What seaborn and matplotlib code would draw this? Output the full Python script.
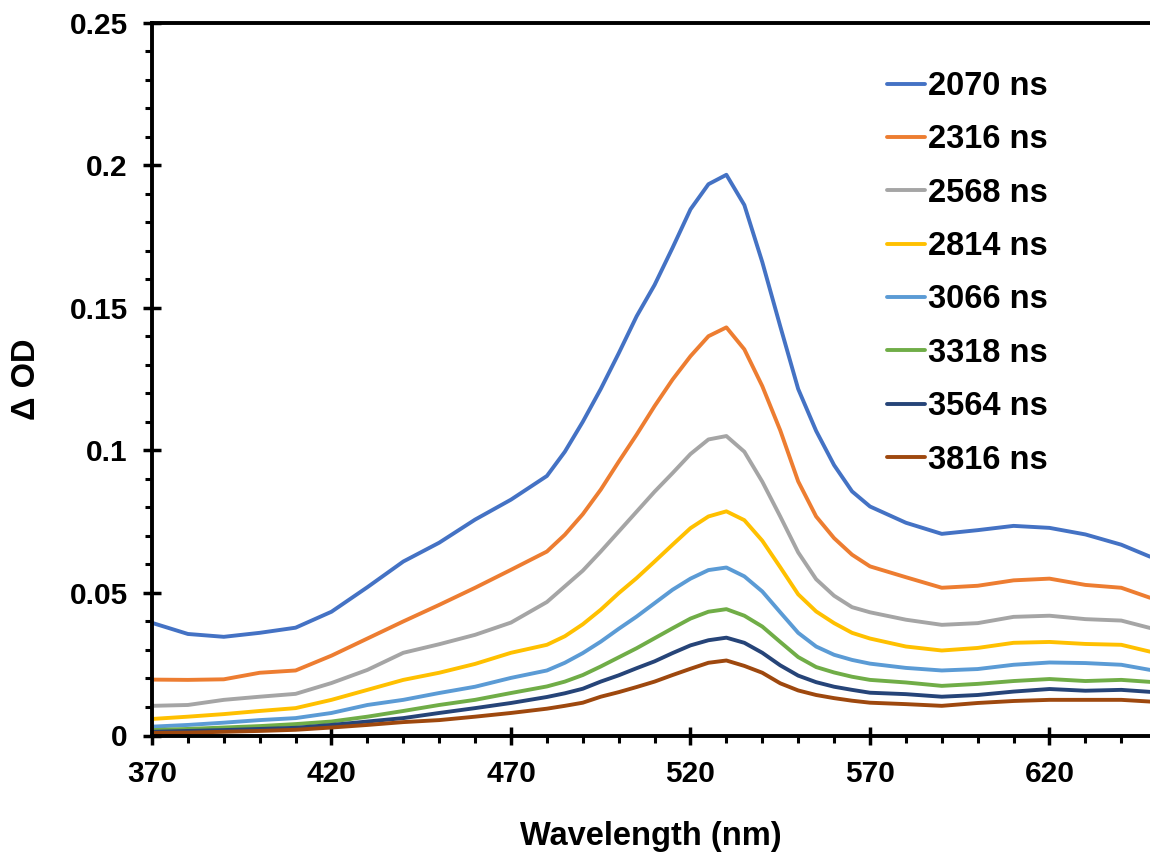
import numpy as np
import pandas as pd
import matplotlib
matplotlib.use("Agg")
import matplotlib.pyplot as plt
from matplotlib.ticker import MultipleLocator, FixedLocator, FixedFormatter
import seaborn as sns

wavelength = [370, 380, 390, 400, 410, 420, 430, 440, 450, 460, 470,
              480, 485, 490, 495, 500, 505, 510, 515, 520, 525, 530, 535, 540, 545,
              550, 555, 560, 565, 570,
              580, 590, 600, 610, 620, 630, 640, 648]

t2070 = [0.0395, 0.0356, 0.0346, 0.0360, 0.0378, 0.0434, 0.0520, 0.0610, 0.0676, 0.0757, 0.0827,
         0.0910, 0.0995, 0.1100, 0.1215, 0.1340, 0.1470, 0.1580, 0.1710, 0.1845, 0.1933, 0.1966,
         0.1860, 0.1660, 0.1435, 0.1215, 0.1068, 0.0948, 0.0856, 0.0803,
         0.0746, 0.0707, 0.0720, 0.0735, 0.0728, 0.0705, 0.0669, 0.0627]
t2316 = [0.0196, 0.0195, 0.0197, 0.0220, 0.0228, 0.0280, 0.0340, 0.0400, 0.0458, 0.0518, 0.0581,
         0.0645, 0.0704, 0.0776, 0.0862, 0.0960, 0.1055, 0.1155, 0.1248, 0.1330, 0.1400, 0.1431,
         0.1354, 0.1225, 0.1070, 0.0891, 0.0768, 0.0692, 0.0634, 0.0593,
         0.0555, 0.0518, 0.0525, 0.0544, 0.0550, 0.0528, 0.0518, 0.0483]
t2568 = [0.0104, 0.0107, 0.0125, 0.0136, 0.0146, 0.0184, 0.0230, 0.0290, 0.0320, 0.0353, 0.0396,
         0.0468, 0.0523, 0.0578, 0.0645, 0.0715, 0.0785, 0.0855, 0.0920, 0.0987, 0.1038, 0.1050,
         0.0995, 0.0890, 0.0768, 0.0642, 0.0548, 0.0490, 0.0450, 0.0432,
         0.0406, 0.0388, 0.0394, 0.0416, 0.0420, 0.0408, 0.0403, 0.0377]
t2814 = [0.0058, 0.0066, 0.0075, 0.0086, 0.0096, 0.0125, 0.0160, 0.0195, 0.0220, 0.0251, 0.0290,
         0.0318, 0.0348, 0.0390, 0.0441, 0.0499, 0.0552, 0.0610, 0.0669, 0.0727, 0.0768, 0.0786,
         0.0755, 0.0683, 0.0590, 0.0495, 0.0435, 0.0394, 0.0360, 0.0340,
         0.0312, 0.0298, 0.0307, 0.0325, 0.0328, 0.0321, 0.0318, 0.0294]
t3066 = [0.0031, 0.0037, 0.0045, 0.0054, 0.0061, 0.0079, 0.0107, 0.0125, 0.0149, 0.0171, 0.0202,
         0.0228, 0.0255, 0.0289, 0.0329, 0.0374, 0.0417, 0.0464, 0.0511, 0.0550, 0.0580, 0.0589,
         0.0558, 0.0505, 0.0432, 0.0360, 0.0312, 0.0283, 0.0265, 0.0252,
         0.0237, 0.0228, 0.0233, 0.0248, 0.0256, 0.0254, 0.0248, 0.0230]
t3318 = [0.0019, 0.0023, 0.0028, 0.0033, 0.0040, 0.0049, 0.0066, 0.0086, 0.0107, 0.0125, 0.0149,
         0.0172, 0.0189, 0.0212, 0.0242, 0.0274, 0.0306, 0.0341, 0.0376, 0.0410, 0.0434, 0.0443,
         0.0420, 0.0382, 0.0328, 0.0275, 0.0240, 0.0221, 0.0206, 0.0195,
         0.0186, 0.0174, 0.0181, 0.0191, 0.0198, 0.0191, 0.0195, 0.0188]
t3564 = [0.0013, 0.0016, 0.0019, 0.0023, 0.0027, 0.0037, 0.0049, 0.0061, 0.0079, 0.0096, 0.0114,
         0.0135, 0.0148, 0.0164, 0.0189, 0.0211, 0.0236, 0.0260, 0.0289, 0.0316, 0.0334, 0.0343,
         0.0325, 0.0290, 0.0246, 0.0210, 0.0187, 0.0171, 0.0160, 0.0150,
         0.0145, 0.0136, 0.0142, 0.0154, 0.0163, 0.0157, 0.0160, 0.0153]
t3816 = [0.0009, 0.0010, 0.0013, 0.0016, 0.0020, 0.0028, 0.0037, 0.0047, 0.0054, 0.0066, 0.0079,
         0.0094, 0.0104, 0.0115, 0.0136, 0.0152, 0.0170, 0.0189, 0.0212, 0.0234, 0.0255, 0.0263,
         0.0244, 0.0220, 0.0183, 0.0158, 0.0142, 0.0131, 0.0122, 0.0115,
         0.0110, 0.0104, 0.0114, 0.0121, 0.0125, 0.0125, 0.0125, 0.0119]

series_labels = ["2070 ns", "2316 ns", "2568 ns", "2814 ns", "3066 ns", "3318 ns", "3564 ns", "3816 ns"]
series_values = [t2070, t2316, t2568, t2814, t3066, t3318, t3564, t3816]
colors = ["#4472C4", "#ED7D31", "#A5A5A5", "#FFC000", "#5B9BD5", "#70AD47", "#264478", "#9E480E"]

x_ticks = [370, 420, 470, 520, 570, 620]
y_ticks = [0, 0.05, 0.1, 0.15, 0.2, 0.25]
y_tick_labels = ["0", "0.05", "0.1", "0.15", "0.2", "0.25"]

frames = []
for lab, vals in zip(series_labels, series_values):
    frames.append(pd.DataFrame({"Wavelength": wavelength, "OD": vals, "Time": lab}))
df = pd.concat(frames, ignore_index=True)

sns.set_style("white")
plt.rcParams['font.family'] = ['Liberation Sans', 'DejaVu Sans']
plt.rcParams['font.weight'] = 'bold'
plt.rcParams['text.color'] = 'black'
plt.rcParams['axes.labelcolor'] = 'black'
plt.rcParams['xtick.color'] = 'black'
plt.rcParams['ytick.color'] = 'black'

fig = plt.figure(figsize=(11.5, 8.59), dpi=100)
ax = fig.add_axes([152 / 1150, 1 - 735.5 / 859, 1 - 152 / 1150, (735.5 - 22.5) / 859])

sns.lineplot(data=df, x="Wavelength", y="OD", hue="Time", hue_order=series_labels,
             palette=colors, linewidth=2.8, sort=False, estimator=None, ax=ax, legend=True)
for ln in ax.get_lines():
    ln.set_solid_joinstyle("round")
    ln.set_solid_capstyle("round")

ax.set_xlim(370, 648)
ax.set_ylim(0, 0.25)

ax.xaxis.set_major_locator(FixedLocator(x_ticks))
ax.xaxis.set_minor_locator(MultipleLocator(10))
ax.yaxis.set_major_locator(FixedLocator(y_ticks))
ax.yaxis.set_major_formatter(FixedFormatter(y_tick_labels))
ax.yaxis.set_minor_locator(MultipleLocator(0.01))

for s in ["left", "bottom", "top"]:
    ax.spines[s].set_visible(True)
    ax.spines[s].set_color("black")
    ax.spines[s].set_linewidth(2.8)
ax.spines["right"].set_visible(False)

ax.tick_params(axis="both", which="both", bottom=True, left=True, top=False, right=False)
ax.tick_params(axis="both", which="major", direction="inout", length=13, width=2.5,
               labelsize=21.5, color="black", labelcolor="black")
ax.tick_params(axis="both", which="minor", direction="out", length=5, width=2.2, color="black")
ax.tick_params(axis="y", which="major", pad=11)
ax.tick_params(axis="x", which="major", pad=11)
for lbl in ax.get_xticklabels() + ax.get_yticklabels():
    lbl.set_fontweight("bold")

ax.set_xlabel("Wavelength (nm)", fontsize=23.5, fontweight="bold", labelpad=24, color="black")
ax.set_ylabel("\u0394 OD", fontsize=23.5, fontweight="bold", labelpad=20, color="black")

handles, labels = ax.get_legend_handles_labels()
leg = ax.legend(handles, labels, loc="upper left", bbox_to_anchor=(887 / 1150, 1 - 71 / 859),
                bbox_transform=fig.transFigure, frameon=False,
                handlelength=1.15, handletextpad=0.1, labelspacing=0.685, borderpad=0,
                borderaxespad=0, prop={"weight": "bold", "size": 23.5})
for line in leg.get_lines():
    line.set_linewidth(2.8)
for t in leg.get_texts():
    t.set_color("black")

fig.savefig("out.png", dpi=100)
